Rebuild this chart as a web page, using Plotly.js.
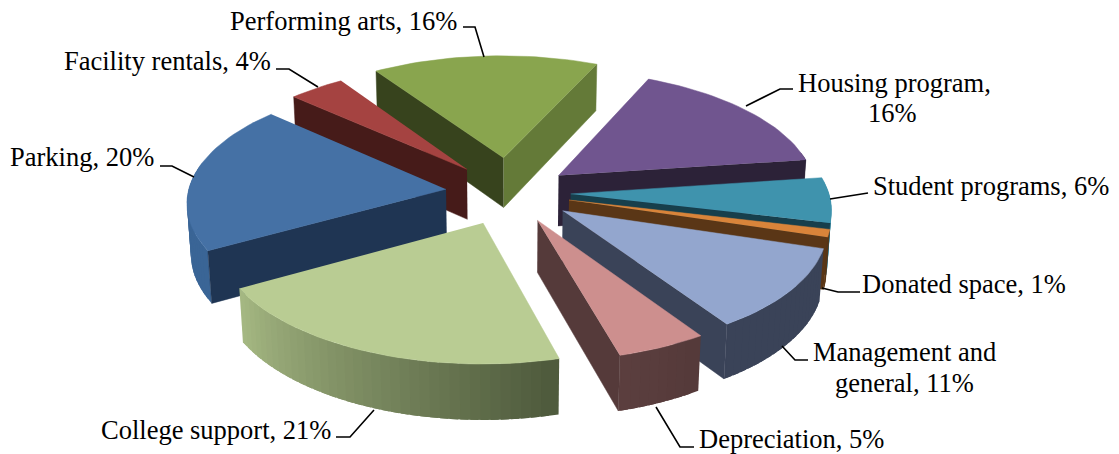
<!DOCTYPE html>
<html><head><meta charset="utf-8">
<script src="https://cdn.plot.ly/plotly-3.0.1.min.js"></script>
<style>html,body{margin:0;padding:0;background:#fff}#c{width:1119px;height:454px}</style>
</head><body><div id="c"></div>
<script>
// Data, clockwise from the start angle
const categories = ["Performing arts","Housing program","Student programs","Donated space","Management and general","Depreciation","College support","Parking","Facility rentals"];
const shares = [16,16,6,1,11,5,21,20,4];
// Styles
const explode = [0.30,0.24,0.235,0.235,0.25,0.25,0.27,0.25,0.26];
const topColors = ["#89a54e","#70558f","#3f93ad","#d9843a","#93a6ce","#cd8f8e","#b9cc93","#4571a5","#a54341"];
const cutColors = [["#37431d","#647a38"],["#2c2238","#2c2238"],["#173f4c","#173f4c"],["#5a3616","#5a3616"],["#3a4358","#3a4358"],["#553a3a","#553a3a"],["#3a4358","#3a4358"],["#1f3553","#1f3553"],["#461b19","#461b19"]];
const rimFrom = ["#647a38","#2c2238","#3f93ad","#5a3616","#3a4358","#553a3a","#4e5a3c","#3a6596","#461b19"];
const rimTo   = ["#647a38","#2c2238","#3f93ad","#5a3616","#3a4358","#5c3f3f","#a8bb85","#3a6596","#461b19"];
const drawOrder = [0,8,7,1,2,3,4,5,6];
const startAngle = -33.1;
const labelText = ["Performing arts, "+shares[0]+"%","Housing program,",shares[1]+"%","Student programs, "+shares[2]+"%","Donated space, "+shares[3]+"%","Management and","general, "+shares[4]+"%","Depreciation, "+shares[5]+"%","College support, "+shares[6]+"%","Parking, "+shares[7]+"%","Facility rentals, "+shares[8]+"%"];
const labelX = [228,796,892,871,860,811,904,697,99,8,62];
const labelY = [21,83,113,186,284,352,383,439,430,157,61];
const labelAnchor = ["left","left","center","left","left","left","center","left","left","left","left"];
const leaders = [
 [[463,475,484],[27,27,57]],[[793,780,746],[89,89,106]],[[868,855,830],[193,195,199]],
 [[860,838,822],[292,292,288]],[[808,795,782],[360,360,346]],[[694,680,656],[447,447,407]],
 [[336,350,374],[437,437,410]],[[160,172,194],[166,166,177]],[[276,289,318],[69,69,87]]];

// Camera
const CX=510, CY=192.5, D=8.5, F=258*D, CT=0.886, ST=0.463, H=0.225, SHEAR=-2.5;
function proj(X,Y,Z){
  const depth=D+Y*CT-Z*ST;
  return [CX+SHEAR*Y+F*X/depth, CY-F*(Y*ST+Z*CT)/depth];
}
const rad=d=>d*Math.PI/180;
function mix(a,b,t){
  const p=s=>[1,3,5].map(i=>parseInt(s.substr(i,2),16));
  const A=p(a),B=p(b);
  return "rgb("+A.map((v,i)=>Math.round(v+(B[i]-v)*t)).join(",")+")";
}
const traces=[];
function poly(pts,color,w){
  traces.push({type:"scatter",mode:"lines",x:pts.map(p=>p[0]),y:pts.map(p=>p[1]),fill:"toself",fillcolor:color,
    line:{color:color,width:w},hoverinfo:"skip",showlegend:false});
}
const total=shares.reduce((a,b)=>a+b,0);
let acc=startAngle;
const slices=shares.map((s,i)=>{const a0=acc;acc+=s/total*360;return {i,a0,a1:acc};});
drawOrder.forEach(k=>{
  const {i,a0,a1}=slices[k];
  const mid=rad((a0+a1)/2);
  const ox=explode[i]*Math.sin(mid), oy=explode[i]*Math.cos(mid);
  const P=(a,r,z)=>proj(ox+r*Math.sin(rad(a)),oy+r*Math.cos(rad(a)),z);
  // rim, in narrow shaded strips that overlap so no seam shows
  const n=Math.max(2,Math.ceil((a1-a0)/2));
  const st=(a1-a0)/n;
  for(let j=n-1;j>=0;j--){
    const b0=a0+st*j,b1=Math.min(a1,b0+st*1.8);
    if(Math.cos(rad(b0+st/2))<0.2)
      poly([P(b0,1,0),P(b1,1,0),P(b1,1,-H),P(b0,1,-H)],mix(rimFrom[i],rimTo[i],(j+0.5)/n),0);
  }
  // cut faces
  if(Math.sin(rad(a0))<0) poly([P(a0,0,0),P(a0,1,0),P(a0,1,-H),P(a0,0,-H)],cutColors[i][0],0.5);
  if(Math.sin(rad(a1))>0) poly([P(a1,0,0),P(a1,1,0),P(a1,1,-H),P(a1,0,-H)],cutColors[i][1],0.5);
  // top
  const t=[P(a0,0,0)];
  for(let j=0;j<=n;j++) t.push(P(a0+st*j,1,0));
  poly(t,topColors[i],0.5);
});
leaders.forEach(l=>traces.push({type:"scatter",mode:"lines",x:l[0],y:l[1],line:{color:"#000",width:1.6},hoverinfo:"skip",showlegend:false}));
const annotations=labelText.map((t,i)=>({text:t,x:labelX[i],y:labelY[i],xref:"x",yref:"y",xanchor:labelAnchor[i],yanchor:"middle",align:"center",showarrow:false,
  font:{family:"Liberation Serif",size:26.5,color:"#000"}}));
Plotly.newPlot("c",traces,{width:1119,height:454,margin:{l:0,r:0,t:0,b:0},paper_bgcolor:"#fff",plot_bgcolor:"#fff",showlegend:false,
  xaxis:{range:[0,1119],visible:false},yaxis:{range:[454,0],visible:false},annotations},{displayModeBar:false,staticPlot:true});
</script></body></html>
